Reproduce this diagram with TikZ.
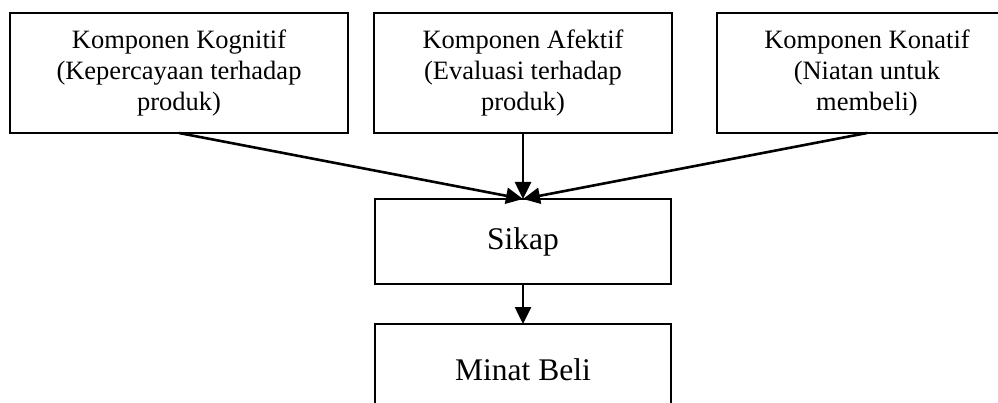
\documentclass[tikz,border=0pt]{standalone}
\usepackage{fontspec}
\setmainfont{Liberation Serif}
\usetikzlibrary{arrows.meta}
\begin{document}
\begin{tikzpicture}[x=1pt,y=-1pt,
  box/.style={draw=black, line width=1.6pt, rectangle, align=center, inner sep=0pt, outer sep=0pt},
  topbox/.style={box, minimum height=120pt, font=\fontsize{26.5}{31}\selectfont},
  lowbox/.style={box, minimum width=296pt, font=\fontsize{31.5}{36}\selectfont},
  arr/.style={line width=2.6pt, -{Triangle[length=17pt,width=16pt]}}]
\useasboundingbox (0,0) rectangle (998,403);
\clip (0,0) rectangle (998,403);
\node[topbox, minimum width=338pt] (kog) at (179,73) {Komponen Kognitif\\(Kepercayaan terhadap\\produk)};
\node[topbox, minimum width=298pt] (afe) at (523,73) {Komponen Afektif\\(Evaluasi terhadap\\produk)};
\node[topbox, minimum width=300pt] (kon) at (867,73) {Komponen Konatif\\(Niatan untuk\\membeli)};
\node[lowbox, minimum height=85pt] (sik) at (523,241.5) {Sikap};
\node[lowbox, minimum height=92pt] (min) at (523,370) {Minat Beli};
\draw[arr] (kog.south) -- (sik.north);
\draw[arr] (afe.south) -- (sik.north);
\draw[arr] (kon.south) -- (sik.north);
\draw[arr] (sik.south) -- (min.north);
\end{tikzpicture}
\end{document}
